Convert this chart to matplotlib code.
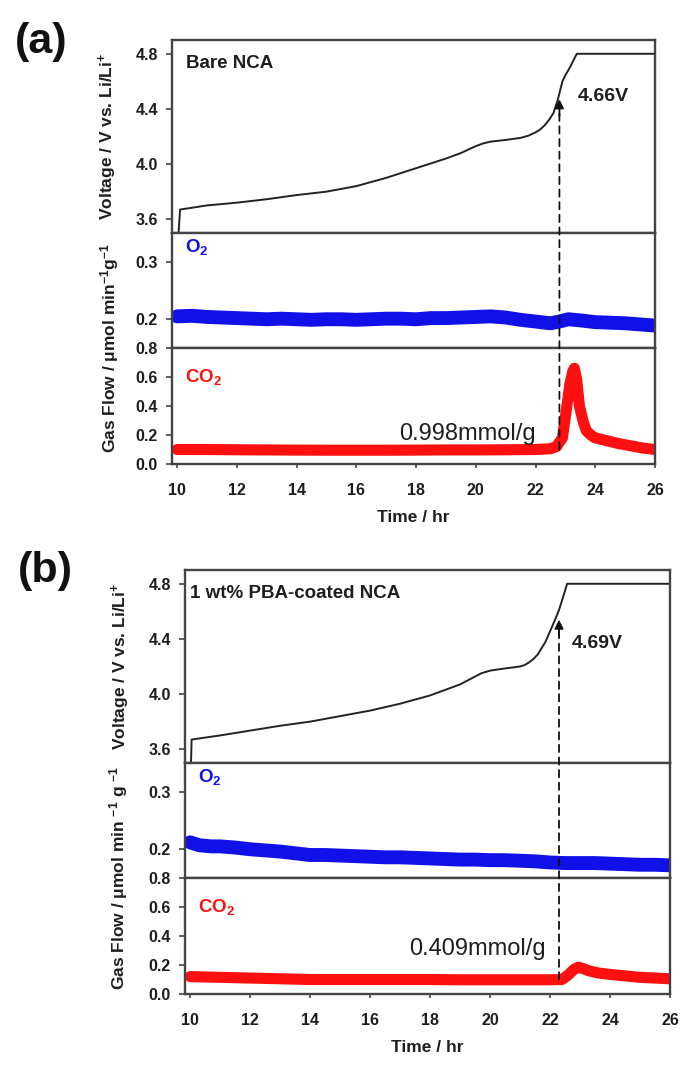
import matplotlib
matplotlib.use("Agg")
import matplotlib.pyplot as plt
from matplotlib.patches import ConnectionPatch

plt.rcParams['font.family'] = ['Liberation Sans', 'DejaVu Sans']
plt.rcParams['mathtext.fontset'] = 'custom'
plt.rcParams['mathtext.rm'] = 'Liberation Sans'
plt.rcParams['mathtext.bf'] = 'Liberation Sans:bold'
plt.rcParams['mathtext.it'] = 'Liberation Sans:italic'

# ---------------- data (a) Bare NCA ----------------
t_va = [10.05, 10.1, 11, 12, 13, 14, 15, 16, 17, 18, 19, 19.5, 19.75, 20, 20.25, 20.5,
        21, 21.5, 21.75, 22, 22.15, 22.3, 22.45, 22.6, 22.75, 22.9, 23.0, 23.15, 23.38, 26]
v_a = [3.50, 3.67, 3.70, 3.72, 3.745, 3.775, 3.80, 3.84, 3.90, 3.97, 4.04, 4.08, 4.105,
       4.13, 4.15, 4.163, 4.175, 4.19, 4.205, 4.23, 4.25, 4.28, 4.32, 4.37, 4.47, 4.60,
       4.645, 4.70, 4.80, 4.80]

t_o2a = [10, 10.5, 11, 11.5, 12, 12.5, 13, 13.5, 14, 14.5, 15, 15.5, 16, 16.5, 17, 17.5,
         18, 18.5, 19, 19.5, 20, 20.5, 21, 21.5, 22, 22.5, 22.8, 23.1, 23.5, 24, 24.5,
         25, 25.5, 26]
o2_a = [0.205, 0.206, 0.204, 0.203, 0.202, 0.201, 0.200, 0.201, 0.200, 0.199, 0.200,
        0.200, 0.199, 0.200, 0.201, 0.201, 0.200, 0.202, 0.202, 0.203, 0.204, 0.205,
        0.203, 0.199, 0.196, 0.193, 0.196, 0.200, 0.198, 0.195, 0.194, 0.193, 0.191, 0.189]

t_co2a = [10, 11, 12, 13, 14, 15, 16, 17, 18, 19, 20, 21, 22, 22.5, 22.7, 22.9, 23.05,
          23.15, 23.25, 23.3, 23.38, 23.47, 23.6, 23.7, 23.85, 24.0, 24.4, 24.8, 25.2,
          25.6, 26]
co2_a = [0.100, 0.100, 0.098, 0.097, 0.096, 0.095, 0.095, 0.095, 0.096, 0.097, 0.097,
         0.098, 0.100, 0.105, 0.12, 0.18, 0.40, 0.55, 0.64, 0.66, 0.58, 0.40, 0.29, 0.23,
         0.20, 0.18, 0.16, 0.14, 0.125, 0.11, 0.10]

# ---------------- data (b) 1 wt% PBA-coated NCA ----------------
t_vb = [10.03, 10.05, 11, 12, 13, 14, 15, 16, 17, 18, 19, 19.35, 19.7, 20.0, 20.3, 21,
        21.15, 21.3, 21.45, 21.6, 21.85, 22.03, 22.17, 22.3, 22.43, 22.57, 26]
v_b = [3.50, 3.67, 3.70, 3.735, 3.77, 3.80, 3.84, 3.88, 3.93, 3.99, 4.07, 4.11, 4.15,
       4.17, 4.18, 4.20, 4.21, 4.23, 4.255, 4.29, 4.38, 4.47, 4.54, 4.61, 4.70, 4.80, 4.80]

t_o2b = [10, 10.3, 10.7, 11, 11.5, 12, 12.5, 13, 13.5, 14, 14.5, 15, 15.5, 16, 16.5, 17,
         17.5, 18, 18.5, 19, 19.5, 20, 20.5, 21, 21.5, 22, 22.5, 23, 23.5, 24, 24.5, 25,
         25.5, 26]
o2_b = [0.212, 0.207, 0.205, 0.205, 0.203, 0.200, 0.198, 0.196, 0.193, 0.190, 0.190,
        0.189, 0.188, 0.187, 0.186, 0.186, 0.185, 0.184, 0.183, 0.182, 0.182, 0.181,
        0.181, 0.180, 0.179, 0.177, 0.176, 0.176, 0.176, 0.175, 0.174, 0.173, 0.173, 0.172]

t_co2b = [10, 11, 12, 13, 14, 15, 16, 17, 18, 19, 20, 21, 22, 22.4, 22.6, 22.8, 22.95,
          23.1, 23.3, 23.6, 24, 24.5, 25, 25.5, 26]
co2_b = [0.12, 0.115, 0.11, 0.105, 0.10, 0.10, 0.10, 0.10, 0.10, 0.098, 0.098, 0.098,
         0.098, 0.10, 0.13, 0.17, 0.185, 0.175, 0.16, 0.145, 0.135, 0.125, 0.115, 0.11,
         0.105]

x_ticks = [10, 12, 14, 16, 18, 20, 22, 24, 26]
v_ticks = [3.6, 4.0, 4.4, 4.8]
o2_ticks = [0.2, 0.3]
co2_ticks = [0.0, 0.2, 0.4, 0.6, 0.8]

W, H = 681, 1068
fig = plt.figure(figsize=(6.81, 10.68), dpi=100)

SPINE = '#444444'
BLUE = '#1010e8'
RED = '#ff1010'
TXT = '#1e1e1e'


def px_axes(x0, y0, x1, y1):
    return fig.add_axes([x0 / W, 1 - y1 / H, (x1 - x0) / W, (y1 - y0) / H])


def style(ax, yt, show_x):
    for s in ax.spines.values():
        s.set_color(SPINE)
        s.set_linewidth(1.7)
    ax.set_xlim(9.83, 26)
    ax.set_yticks(yt)
    ax.tick_params(axis='y', direction='out', length=4, width=1.2, color=SPINE,
                   labelsize=11.5, pad=6)
    if show_x:
        ax.set_xticks(x_ticks)
        ax.tick_params(axis='x', direction='out', length=3, width=1.2, color=SPINE,
                       labelsize=11.5, pad=11)
    else:
        ax.set_xticks([])
    for lab in ax.get_yticklabels() + ax.get_xticklabels():
        lab.set_fontweight('bold')
        lab.set_color(TXT)


def panel(left, right, top, t_v, v, t_o2, o2, t_co2, co2, name, vlabel, vlabel_xy,
          arrow_x, tip_v, integ, integ_xy, letter, letter_xy, ylab_v_x, ylab_g_x, glabel,
          name_x):
    y1 = top + 193
    y2 = y1 + 115
    y3 = y2 + 116
    axv = px_axes(left, top, right, y1)
    axo = px_axes(left, y1, right, y2)
    axc = px_axes(left, y2, right, y3)

    axv.plot(t_v, v, color='#222222', lw=1.4)
    axv.set_ylim(3.5, 4.9)
    style(axv, v_ticks, False)

    axo.plot(t_o2, o2, color=BLUE, lw=10, solid_capstyle='round', solid_joinstyle='round')
    axo.set_ylim(0.15, 0.35)
    style(axo, o2_ticks, False)

    axc.plot(t_co2, co2, color=RED, lw=8, solid_capstyle='round', solid_joinstyle='round')
    axc.set_ylim(0.0, 0.8)
    style(axc, co2_ticks, True)
    axc.set_xlabel('Time / hr', fontsize=12.5, fontweight='bold', labelpad=8, color=TXT)

    # texts
    axv.text(name_x, 4.73, name, fontsize=13.5, fontweight='bold', va='center', ha='left',
             color=TXT)
    axv.text(vlabel_xy[0], vlabel_xy[1], vlabel, fontsize=14, fontweight='bold',
             va='center', ha='left', color=TXT)
    axo.text(10.25, 0.325, r'$\mathbf{O_2}$', fontsize=13.5, color=BLUE, va='center', ha='left')
    axc.text(10.25, 0.60, r'$\mathbf{CO_2}$', fontsize=13.5, color=RED, va='center', ha='left')
    axc.text(integ_xy[0], integ_xy[1], integ, fontsize=17, va='center', ha='right',
             color=TXT)

    # dashed connector + arrow head
    con = ConnectionPatch(xyA=(arrow_x, 0.10), coordsA=axc.transData,
                          xyB=(arrow_x, tip_v - 0.06), coordsB=axv.transData,
                          linestyle=(0, (4, 3)), color='#111111', lw=1.3)
    fig.add_artist(con)
    axv.annotate('', xy=(arrow_x, tip_v), xytext=(arrow_x, tip_v - 0.12),
                 arrowprops=dict(arrowstyle='-|>', color='#111111', lw=1.3,
                                 mutation_scale=13, shrinkA=0, shrinkB=0))

    # y labels
    fig.text(ylab_v_x / W, 1 - (top + 96) / H, r'Voltage / V vs. Li/Li$^{\mathbf{+}}$',
             rotation=90, fontsize=12.5, fontweight='bold', va='center', ha='center',
             color=TXT)
    fig.text(ylab_g_x / W, 1 - (y1 + 115) / H, glabel, rotation=90, fontsize=12.5,
             fontweight='bold', va='center', ha='center', color=TXT)

    fig.text(letter_xy[0] / W, 1 - letter_xy[1] / H, letter, fontsize=31,
             fontweight='bold', va='center', ha='center', color='#111111')


panel(172, 655, 40, t_va, v_a, t_o2a, o2_a, t_co2a, co2_a, 'Bare NCA', '4.66V',
      (23.4, 4.49), 22.8, 4.47, '0.998mmol/g', (22.0, 0.21), '(a)', (41, 42), 108, 110,
      r'Gas Flow / $\mathregular{\mu}$mol min$^{\mathbf{-1}}$g$^{\mathbf{-1}}$', 10.3)
panel(185, 670, 570, t_vb, v_b, t_o2b, o2_b, t_co2b, co2_b, '1 wt% PBA-coated NCA',
      '4.69V', (22.73, 4.37), 22.3, 4.54, '0.409mmol/g', (21.85, 0.31), '(b)', (45, 571),
      121, 119,
      r'Gas Flow / $\mathregular{\mu}$mol min $^{\mathbf{-1}}$ g $^{\mathbf{-1}}$', 10.0)

fig.savefig('out.png', dpi=100)
